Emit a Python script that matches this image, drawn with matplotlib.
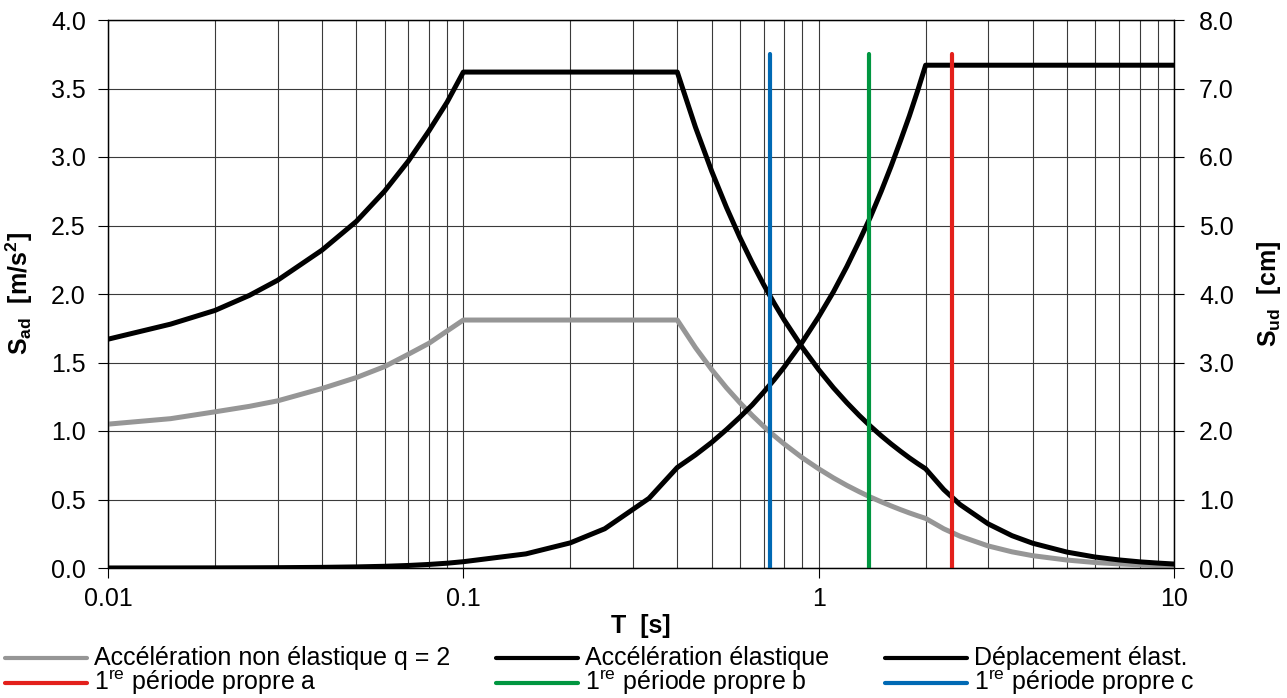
import matplotlib
matplotlib.use("Agg")
import matplotlib.pyplot as plt
from matplotlib.lines import Line2D
from matplotlib.ticker import FixedLocator, LogLocator, NullFormatter

plt.rcParams['font.family'] = ['Liberation Sans', 'DejaVu Sans']
plt.rcParams['mathtext.fontset'] = 'custom'
plt.rcParams['mathtext.rm'] = 'Liberation Sans'
plt.rcParams['mathtext.default'] = 'regular'

# periods [s]
T = [0.01, 0.015, 0.02, 0.025, 0.03, 0.04, 0.05, 0.06, 0.07, 0.08, 0.09, 0.1,
     0.15, 0.2, 0.25, 0.333, 0.4,
     0.45, 0.5, 0.55, 0.6, 0.65, 0.7, 0.75, 0.8, 0.9, 1.0,
     1.1, 1.2, 1.3, 1.4, 1.5, 1.6, 1.7, 1.8, 1.9, 2.0,
     2.25, 2.5, 3.0, 3.5, 4.0, 5.0, 6.0, 7.0, 8.0, 9.0, 10.0]

# elastic acceleration [m/s2]
acc_el = [1.67, 1.78, 1.88, 1.99, 2.10, 2.32, 2.53, 2.75, 2.97, 3.19, 3.40, 3.62,
          3.62, 3.62, 3.62, 3.62, 3.62,
          3.218, 2.896, 2.633, 2.413, 2.228, 2.069, 1.931, 1.810, 1.609, 1.448,
          1.316, 1.207, 1.114, 1.034, 0.965, 0.905, 0.852, 0.804, 0.762, 0.724,
          0.572, 0.463, 0.322, 0.236, 0.181, 0.116, 0.080, 0.059, 0.045, 0.036,
          0.029]

# inelastic acceleration q = 2 [m/s2]
acc_q2 = [1.05, 1.09, 1.14, 1.18, 1.22, 1.31, 1.39, 1.47, 1.56, 1.64, 1.73, 1.81,
          1.81, 1.81, 1.81, 1.81, 1.81,
          1.609, 1.448, 1.316, 1.207, 1.114, 1.034, 0.965, 0.905, 0.804, 0.724,
          0.658, 0.603, 0.557, 0.517, 0.483, 0.453, 0.426, 0.402, 0.381, 0.362,
          0.286, 0.232, 0.161, 0.118, 0.090, 0.058, 0.040, 0.030, 0.023, 0.018,
          0.015]

# elastic displacement [cm]
disp_el = [0.0004, 0.001, 0.0019, 0.0032, 0.0048, 0.0094, 0.016, 0.025, 0.037,
           0.052, 0.070, 0.092,
           0.206, 0.367, 0.573, 1.017, 1.467,
           1.651, 1.834, 2.02, 2.201, 2.38, 2.567, 2.75, 2.934, 3.301, 3.668,
           4.03, 4.40, 4.77, 5.13, 5.50, 5.87, 6.24, 6.60, 6.97, 7.34,
           7.34, 7.34, 7.34, 7.34, 7.34, 7.34, 7.34, 7.34, 7.34, 7.34, 7.34]

# first natural periods a, b, c [s]
periods = {'a': 2.38, 'b': 1.39, 'c': 0.73}
period_top = 3.75

gray = '#969696'
period_colors = {'a': '#e3201b', 'b': '#009640', 'c': '#0069b4'}
fs = 18

W, H = 1287, 698
fig = plt.figure(figsize=(W / 100, H / 100), dpi=100)
ax = fig.add_axes([108 / W, 1 - 568 / H, 1066 / W, 548 / H])
ax2 = ax.twinx()

ax.plot(T, acc_q2, color=gray, lw=3.6, zorder=3)
ax.plot(T, acc_el, color='black', lw=3.6, zorder=3)
ax.plot(T, disp_el, color='black', lw=3.6, zorder=3, transform=ax2.transData)
for k in ['c', 'b', 'a']:
    ax.plot([periods[k], periods[k]], [0, period_top], color=period_colors[k],
            lw=3, solid_capstyle='round', zorder=4)

ax.set_xscale('log')
ax.set_xlim(0.01, 10)
ax.set_ylim(0, 4)
ax2.set_ylim(0, 8)

ax.xaxis.set_major_locator(FixedLocator([0.01, 0.1, 1, 10]))
ax.set_xticklabels(['0.01', '0.1', '1', '10'])
ax.xaxis.set_minor_locator(LogLocator(base=10, subs=range(2, 10)))
ax.xaxis.set_minor_formatter(NullFormatter())
ax.set_yticks([i * 0.5 for i in range(9)])
ax.set_yticklabels([f'{i * 0.5:.1f}' for i in range(9)])
ax2.set_yticks(range(9))
ax2.set_yticklabels([f'{i:.1f}' for i in range(9)])

ax.grid(which='both', axis='x', color='#3a3a3a', lw=0.8)
ax.grid(which='major', axis='y', color='#3a3a3a', lw=0.8)

ax.tick_params(axis='x', which='major', direction='out', length=7, width=0.8,
               labelsize=fs, pad=7)
ax.tick_params(axis='x', which='minor', length=0)
ax.tick_params(axis='y', direction='out', length=7, width=0.8, labelsize=fs, pad=9)
ax2.tick_params(axis='y', direction='out', length=7, width=0.8, labelsize=fs, pad=11)
for a in (ax, ax2):
    for s in a.spines.values():
        s.set_color('black')
        s.set_linewidth(0.9)

ax.set_xlabel('T  [s]', fontsize=fs, fontweight='bold', labelpad=2)
ax.set_ylabel('S$_{ad}$  [m/s$^2$]', fontsize=fs, fontweight='bold')
ax.yaxis.set_label_coords((35 - 108) / 1066, 0.5)
ax2.set_ylabel('S$_{ud}$  [cm]', fontsize=fs, fontweight='bold')
ax2.yaxis.set_label_coords((1255 - 108) / 1066, 0.5)

# legend, three columns by two rows
entries = [
    ('Accélération non élastique q = 2', gray, 5, 658),
    ('1$^{re}$ période propre a', period_colors['a'], 5, 683),
    ('Accélération élastique', 'black', 496, 658),
    ('1$^{re}$ période propre b', period_colors['b'], 496, 683),
    ('Déplacement élast.', 'black', 885, 658),
    ('1$^{re}$ période propre c', period_colors['c'], 885, 683),
]
for label, col, x0, y0 in entries:
    fy = 1 - y0 / H
    fig.add_artist(Line2D([x0 / W, (x0 + 82) / W], [fy, fy], color=col, lw=3,
                          solid_capstyle='round', transform=fig.transFigure))
    fig.text((x0 + 89) / W, fy, label, fontsize=fs, va='center', ha='left')

fig.savefig('out.png', dpi=100)
